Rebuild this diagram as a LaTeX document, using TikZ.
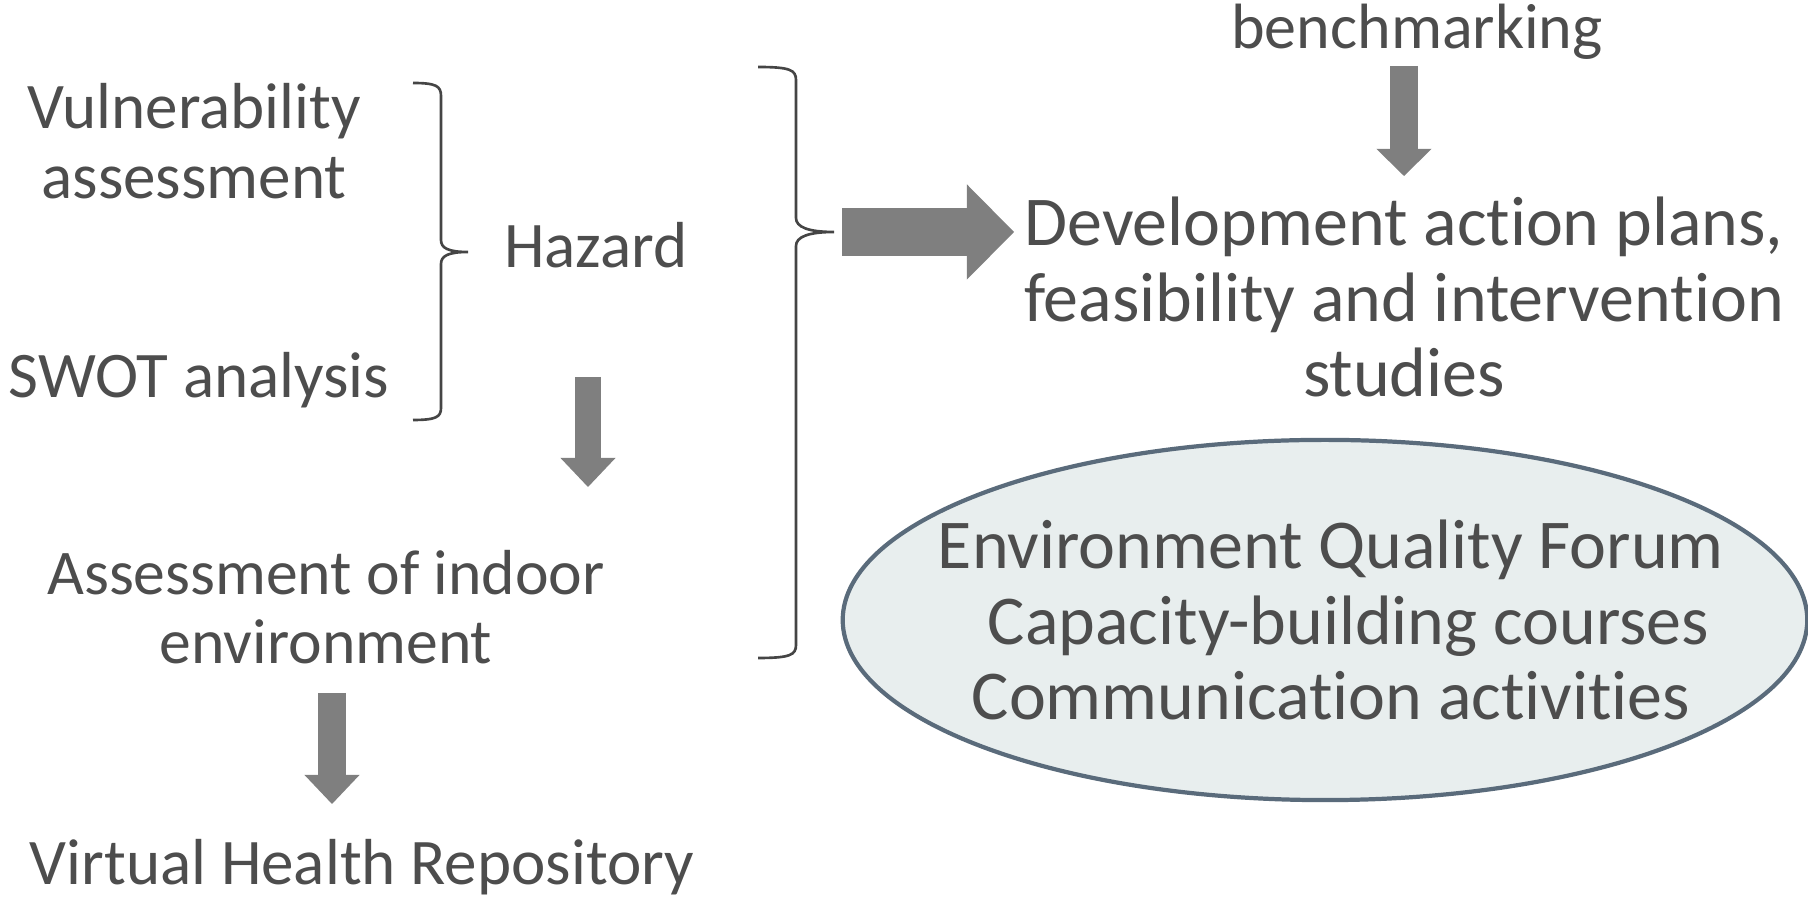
\documentclass[tikz,border=0pt]{standalone}
\usepackage{fontspec}
\setmainfont{Carlito}[RawFeature={-liga;-clig;-calt;-dlig}]
\usetikzlibrary{arrows.meta,shapes.geometric}
\definecolor{txtgray}{HTML}{4D4D4D}
\definecolor{arrgray}{HTML}{7F7F7F}
\definecolor{bracegray}{HTML}{454545}
\definecolor{forumfill}{HTML}{E8EEEE}
\definecolor{forumline}{HTML}{5A6B7B}
\tikzset{
  txt/.style={text=txtgray, align=center, inner sep=0pt, font=\fontsize{19.9}{21.6}\selectfont},
  lefttxt/.style={txt, font=\fontsize{18.5}{19.8}\selectfont},
  bracket/.style={bracegray, line width=0.75pt},
  blockarrow/.style n args={3}{arrgray, line width=#1, -{Triangle[length=#2, width=#3, line width=0pt]}}
}
\begin{document}
\begin{tikzpicture}[x=0.01cm, y=-0.01cm]
      \useasboundingbox (0,0) rectangle (1808,901);

      % Left column
      \node[lefttxt] (vuln) at (194,141) {Vulnerability\\assessment};
      \node[lefttxt] (swot) at (199,380) {SWOT analysis};
      \node[lefttxt] (hazard) at (596,245) {Hazard};
      \node[lefttxt, font=\fontsize{18.1}{19.8}\selectfont] (indoor) at (326,607) {Assessment of indoor\\environment};
      \node[lefttxt] (vhr) at (362,867) {Virtual Health Repository};

      % Braces
      \draw[bracket] (413,83) .. controls (436,83) and (441,86) .. (441,96) -- (441,240)
        .. controls (441,248) and (448,252) .. (468,252)
        .. controls (448,252) and (441,256) .. (441,264) -- (441,408)
        .. controls (441,417) and (436,420) .. (413,420);
      \draw[bracket] (758,67) .. controls (790,67) and (796,70) .. (796,80) -- (796,218)
        .. controls (796,227) and (808,232) .. (834,232)
        .. controls (808,232) and (796,237) .. (796,246) -- (796,645)
        .. controls (796,655) and (790,658) .. (758,658);

      % Right column
      \node[txt, font=\fontsize{18.2}{21.6}\selectfont] (bench) at (1417,32) {benchmarking};
      \node[txt] (dev) at (1404,297) {Development action plans,\\feasibility and intervention\\studies};
      \node[ellipse, draw=forumline, line width=1.2pt, fill=forumfill, minimum width=9.64cm, minimum height=3.6cm, inner sep=0pt] (forum) at (1325,620) {};
      \node[txt] (forumtxt) at ([xshift=0.06cm]forum.center) {Environment Quality Forum\\\hspace*{0.35cm}Capacity-building courses\\Communication activities};

      % Arrows
      \coordinate (bigtail) at (842,232);
      \coordinate (bigtip) at (1014,232);
      \coordinate (benchtail) at (1404,66);
      \coordinate (benchtip) at (1404,176);
      \coordinate (hazardtail) at (588,377);
      \coordinate (hazardtip) at (588,487);
      \coordinate (indoortail) at (332,693);
      \coordinate (indoortip) at (332,804);
      \draw[blockarrow={0.48cm}{0.47cm}{0.95cm}] (bigtail) -- (bigtip);
      \draw[blockarrow={0.28cm}{0.27cm}{0.55cm}] (benchtail) -- (benchtip);
      \draw[blockarrow={0.26cm}{0.29cm}{0.55cm}] (hazardtail) -- (hazardtip);
      \draw[blockarrow={0.27cm}{0.29cm}{0.55cm}] (indoortail) -- (indoortip);
    \end{tikzpicture}
\end{document}
